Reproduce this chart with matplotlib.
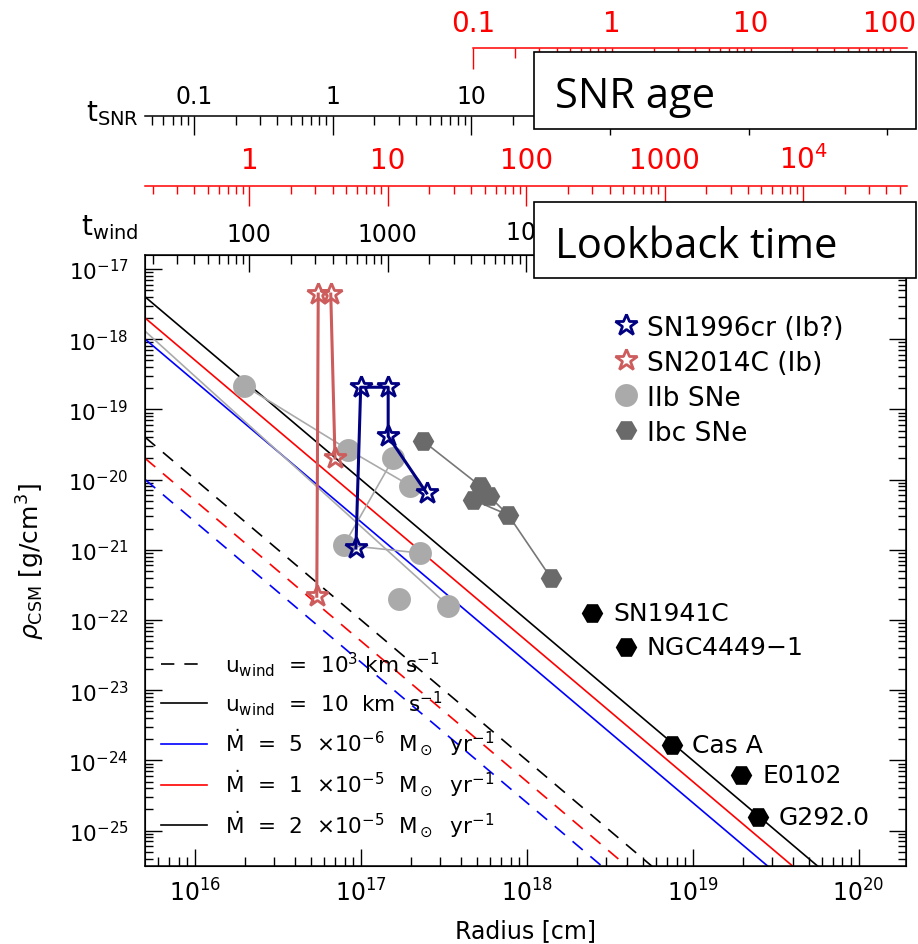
import numpy as np
import matplotlib.pyplot as plt
from matplotlib.lines import Line2D
from matplotlib.patches import Rectangle
from matplotlib.ticker import LogLocator, NullFormatter, FuncFormatter

plt.rcParams['font.family'] = ['DejaVu Sans']
plt.rcParams['mathtext.fontset'] = 'dejavusans'

W, H = 918, 945

# wind models
msun = 1.989e33
yr = 3.156e7
mdot = [5e-6, 1e-5, 2e-5]            # Msun/yr
mdot_colors = ['blue', 'red', 'black']
mdot_labels = ['5', '1', '2']
mdot_exps = ['-6', '-5', '-5']
u_wind = [10.0, 1000.0]               # km/s
u_styles = ['-', '--']
r_model = np.array([5e15, 2e20])

# IIb SNe (last point is off the left edge)
iib_r = [1.98e16, 8.39e16, 1.57e17, 1.98e17, 7.91e16, 2.27e17, 1.70e17, 3.37e17, 3.0e15]
iib_rho = [2.18e-19, 2.67e-20, 2.01e-20, 8.18e-21, 1.17e-21, 9.0e-22, 1.99e-22, 1.6e-22, 3.88e-18]
iib_links = [[0, 1, 3], [2, 4, 5], [8, 7]]

# Ibc SNe
ibc_r = [2.38e17, 5.22e17, 5.94e17, 4.72e17, 7.74e17, 1.40e18]
ibc_rho = [3.52e-20, 8.18e-21, 5.78e-21, 5.18e-21, 3.13e-21, 3.96e-22]
ibc_links = [[0, 1], [3, 4, 5], [2, 4]]

# SN1996cr
cr_r = [9.33e16, 9.97e16, 1.46e17, 1.46e17, 2.49e17]
cr_rho = [1.06e-21, 2.07e-19, 2.07e-19, 4.14e-20, 6.44e-21]

# SN2014C (two tracks)
c14_r = [[5.53e16, 5.42e16], [6.58e16, 6.98e16]]
c14_rho = [[4.4e-18, 2.18e-22], [4.4e-18, 2.03e-20]]

# SNRs
snr_names = ['SN1941C', 'NGC4449$-$1', 'Cas A', 'E0102', 'G292.0']
snr_r = [2.48e18, 3.94e18, 7.46e18, 1.97e19, 2.48e19]
snr_rho = [1.26e-22, 4.08e-23, 1.67e-24, 6.19e-25, 1.55e-25]


def fx(px):
    return px / W


def fy(py):
    return 1 - py / H


fig = plt.figure(figsize=(W / 100, H / 100), dpi=100)
ax = fig.add_axes([fx(145.4), fy(867.3), (905.5 - 145.4) / W, (867.3 - 255.7) / H])
ax.set_xscale('log')
ax.set_yscale('log')
ax.set_xlim(5.02e15, 1.92e20)
ax.set_ylim(3.1e-26, 1.6e-17)

for m, c in zip(mdot, mdot_colors):
    for u, ls in zip(u_wind, u_styles):
        rho = m * msun / yr / (4 * np.pi * r_model ** 2 * u * 1e5)
        if ls == '--':
            ax.plot(r_model, rho, color=c, lw=1.2, dashes=(8, 6), zorder=2)
        else:
            ax.plot(r_model, rho, color=c, lw=1.2, zorder=2)

for link in iib_links:
    ax.plot([iib_r[i] for i in link], [iib_rho[i] for i in link], color='#aaaaaa', lw=1.2, zorder=3)
ax.plot(iib_r, iib_rho, 'o', color='#aaaaaa', ms=16.5, mew=0, zorder=4)

for link in ibc_links:
    ax.plot([ibc_r[i] for i in link], [ibc_rho[i] for i in link], color='#777777', lw=1.2, zorder=3)
ax.plot(ibc_r, ibc_rho, 'H', color='#6a6a6a', ms=15.5, mew=0, zorder=4)

ax.plot(snr_r, snr_rho, 'H', color='black', ms=15.5, mew=0, zorder=5)
for name, r, rho in zip(snr_names, snr_r, snr_rho):
    ax.annotate(name, (r, rho), xytext=(15, 0), textcoords='offset points',
                va='center', ha='left', fontsize=18)

for rr, dd in zip(c14_r, c14_rho):
    ax.plot(rr, dd, color='indianred', lw=2.2, zorder=6)
    ax.plot(rr, dd, '*', ls='none', mec='indianred', mfc='none', ms=16.5, mew=2, zorder=7)

ax.plot(cr_r, cr_rho, color='navy', lw=2.2, zorder=6)
ax.plot(cr_r, cr_rho, '*', ls='none', mec='navy', mfc='none', ms=16.5, mew=2, zorder=7)

# axes styling
for s in ax.spines.values():
    s.set_linewidth(1.1)
ax.tick_params(axis='both', which='both', direction='in', width=1.0)
ax.tick_params(axis='x', which='major', length=12, labelsize=17, pad=9, top=False)
ax.tick_params(axis='x', which='minor', length=6.5, top=False)
ax.tick_params(axis='y', which='major', length=12, labelsize=15.5, pad=12, right=True)
ax.tick_params(axis='y', which='minor', length=6, right=True)
ax.xaxis.set_major_locator(LogLocator(base=10, numticks=20))
ax.xaxis.set_minor_locator(LogLocator(base=10, subs=np.arange(2, 10), numticks=20))
ax.xaxis.set_minor_formatter(NullFormatter())
ax.yaxis.set_major_locator(LogLocator(base=10, numticks=20))
ax.yaxis.set_minor_locator(LogLocator(base=10, subs=np.arange(2, 10), numticks=20))
ax.yaxis.set_minor_formatter(NullFormatter())
ax.set_xlabel('Radius [cm]', fontsize=17)
ax.xaxis.set_label_coords(0.5, -0.085)
ax.set_ylabel(r'$\rho_{\rm CSM}$ [g/cm$^3$]', fontsize=18)
ax.yaxis.set_label_coords(-0.1295, 0.5)

# legends
sn_handles = [
    Line2D([], [], marker='*', ls='none', mec='navy', mfc='none', ms=16.5, mew=2),
    Line2D([], [], marker='*', ls='none', mec='indianred', mfc='none', ms=16.5, mew=2),
    Line2D([], [], marker='o', ls='none', color='#aaaaaa', ms=16.5, mew=0),
    Line2D([], [], marker='H', ls='none', color='#6a6a6a', ms=15.5, mew=0),
]
sn_labels = ['SN1996cr (Ib?)', 'SN2014C (Ib)', 'IIb SNe', 'Ibc SNe']
leg1 = ax.legend(sn_handles, sn_labels, loc='upper left', bbox_to_anchor=(0.618, 0.902),
                 frameon=False, fontsize=19, handlelength=0.8, handletextpad=0.4,
                 labelspacing=0.34, borderpad=0, borderaxespad=0)
ax.add_artist(leg1)

model_handles = [Line2D([], [], color='black', lw=1.2, dashes=(8, 6)),
                 Line2D([], [], color='black', lw=1.2)]
model_labels = [r'u$_{\rm wind}$  =  10$^3$ km s$^{-1}$',
                r'u$_{\rm wind}$  =  10  km  s$^{-1}$']
for c, a, e in zip(mdot_colors, mdot_labels, mdot_exps):
    model_handles.append(Line2D([], [], color=c, lw=1.2))
    model_labels.append(r'$\dot{\mathrm{M}}$  =  ' + a + r'  $\times$10$^{' + e + r'}$  M$_\odot$  yr$^{-1}$')
ax.legend(model_handles, model_labels, loc='lower left', bbox_to_anchor=(0.020, 0.045),
          frameon=False, fontsize=15.5, handlelength=2.15, handletextpad=0.85,
          labelspacing=0.47, borderpad=0, borderaxespad=0)


def tfmt(v, pos):
    if v < 1:
        return '%g' % v
    if v <= 1000:
        return '%d' % round(v)
    return r'$10^{%d}$' % round(np.log10(v))


def style_top(a, color, majlen, minlen, size, pad):
    a.set_xscale('log')
    a.xaxis.set_ticks_position('top')
    a.xaxis.set_major_locator(LogLocator(base=10, numticks=20))
    a.xaxis.set_minor_locator(LogLocator(base=10, subs=np.arange(2, 10), numticks=20))
    a.xaxis.set_major_formatter(FuncFormatter(tfmt))
    a.xaxis.set_minor_formatter(NullFormatter())
    a.tick_params(axis='x', which='both', direction='in', colors=color, width=1.0,
                  top=True, bottom=False, labeltop=True, labelbottom=False)
    a.tick_params(axis='x', which='major', length=majlen, labelsize=size, pad=pad)
    a.tick_params(axis='x', which='minor', length=minlen)


# t_wind on the top spine
axw = ax.twiny()
axw.set_xscale('log')
axw.set_xlim(17.74, 5.56e6)
style_top(axw, 'black', 12.5, 6.5, 17, 6.5)


def line_axis(y, x0, x1, lim, color, majlen, minlen, size, pad):
    a = fig.add_axes([fx(x0), fy(y), (x1 - x0) / W, 0.0002])
    a.patch.set_visible(False)
    for k in ['left', 'right', 'bottom']:
        a.spines[k].set_visible(False)
    a.spines['top'].set_color(color)
    a.spines['top'].set_linewidth(1.1)
    a.set_yticks([])
    style_top(a, color, majlen, minlen, size, pad)
    a.set_xlim(lim)
    return a


line_axis(186.7, 145.4, 906.7, (0.1774, 5.6e4), 'red', 14.5, 6, 20, 8.5)
line_axis(117.3, 145.4, 906.7, (0.0446, 1.384e4), 'black', 13.5, 6.5, 17, 6)
line_axis(49.3, 473, 906.7, (0.1, 133), 'red', 15, 7, 20, 8)

fig.text(fx(138), fy(121), r't$_{\rm SNR}$', fontsize=20, ha='right', va='baseline')
fig.text(fx(138), fy(235), r't$_{\rm wind}$', fontsize=20, ha='right', va='baseline')

# label boxes
for y0, y1, txt, base in [(53.3, 130, 'SNR age', 108), (202.7, 279.3, 'Lookback time', 258)]:
    fig.add_artist(Rectangle((fx(534), fy(y1)), (915.7 - 534) / W, (y1 - y0) / H,
                             transform=fig.transFigure, fc='white', ec='black', lw=1.2, zorder=10))
    fig.text(fx(555), fy(base), txt, fontsize=30, family='Open Sans', ha='left', va='baseline', zorder=11)

fig.savefig('out.png', dpi=100)
